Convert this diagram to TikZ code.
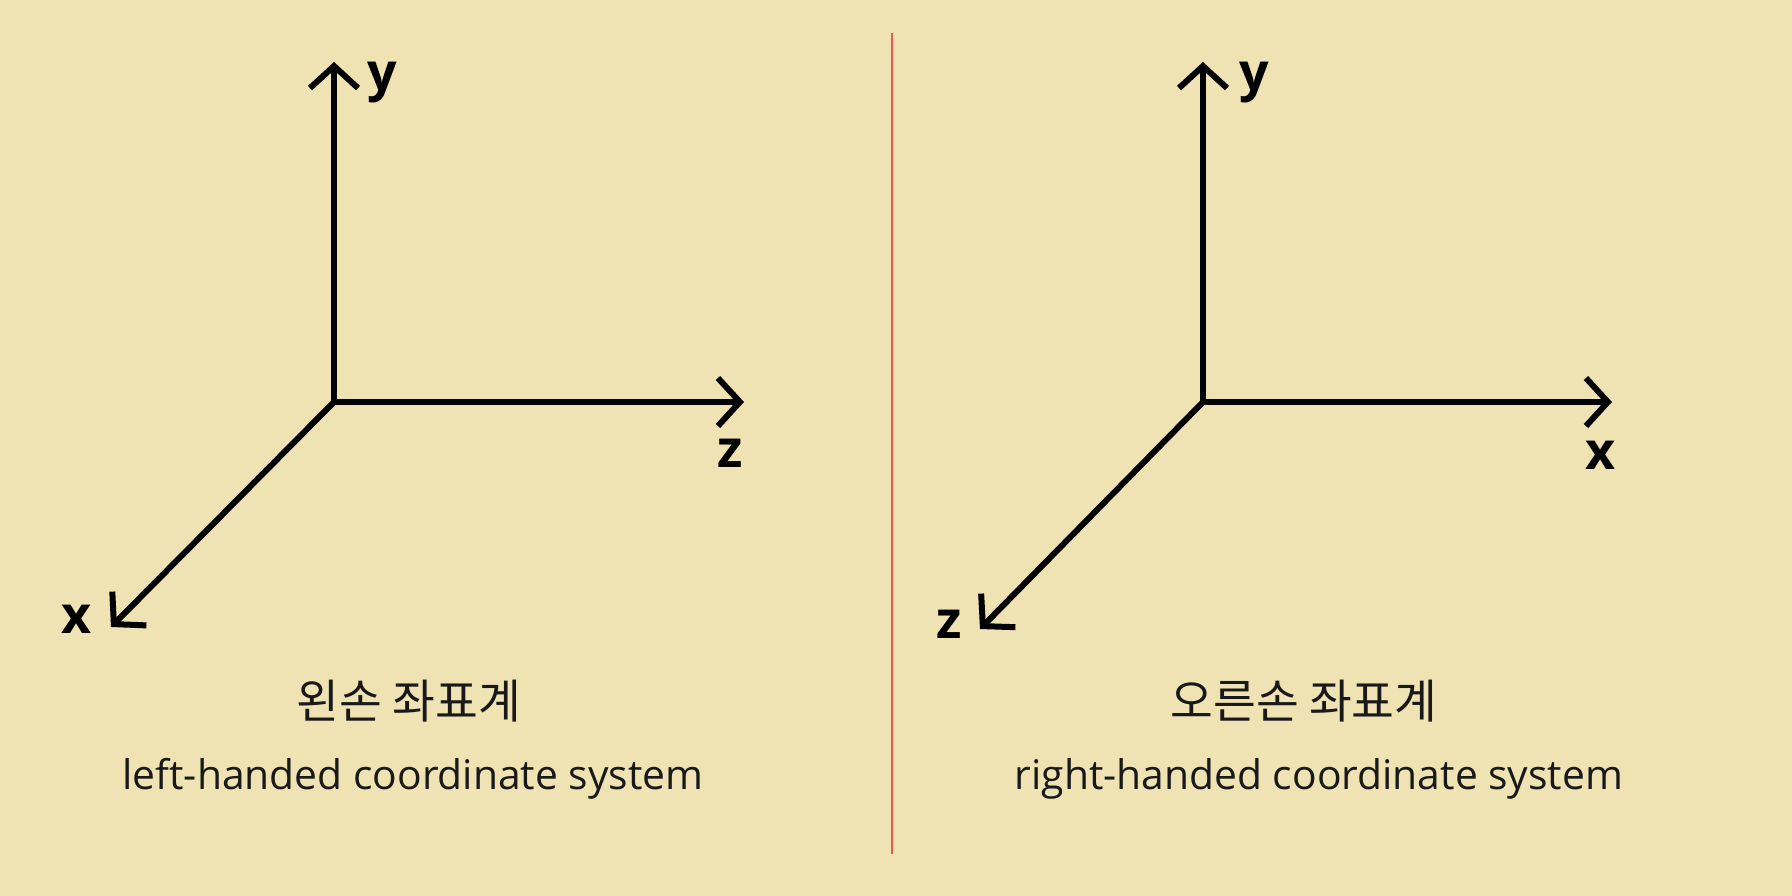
\documentclass[tikz,border=0pt]{standalone}
\usepackage{fontspec}
\setmainfont{Open Sans}
\newfontfamily\kofont{Noto Sans CJK KR}
\usetikzlibrary{arrows.meta}
\definecolor{bg}{RGB}{239,227,180}
\definecolor{divider}{RGB}{236,88,76}
\definecolor{txt}{RGB}{25,25,25}
\tikzset{
  axis/.style={line width=6pt, draw=black, line cap=butt,
    -{Straight Barb[length=22pt,width=48pt,sharp,line width=6pt]}},
  axlabel/.style={anchor=base, inner sep=0pt, font=\fontsize{52}{60}\selectfont\bfseries, text=black},
  kolabel/.style={anchor=center, inner sep=0pt, font=\fontsize{46.5}{52}\selectfont\kofont, text=txt},
  enlabel/.style={anchor=base, inner sep=0pt, font=\fontsize{40.8}{48}\selectfont, text=txt},
}
\begin{document}
\begin{tikzpicture}[x=1pt,y=-1pt]
\fill[bg] (0,0) rectangle (1792,896);
\useasboundingbox (0,0) rectangle (1792,896);
% divider
\coordinate (dtop) at (892,33);
\coordinate (dbot) at (892,854);
\draw[divider, line width=2pt] (dtop) -- (dbot);
% left system
\coordinate (Lo) at (334,402);
\coordinate (Ly) at (334,62);
\coordinate (Lz) at (744,402);
\coordinate (Lx) at (111,627);
\draw[axis] (Lo) -- (Ly);
\draw[axis] (Lo) -- (Lz);
\draw[axis] (Lo) -- (Lx);
\node[axlabel] (Lylab) at (382,91) {y};
\node[axlabel] (Lzlab) at (730,467) {z};
\node[axlabel] (Lxlab) at (77,633) {x};
\node[kolabel] (Lko) at (409,701) {왼손 좌표계};
\node[enlabel] (Len) at (413,789) {left-handed coordinate system};
% right system
\coordinate (Ro) at (1203,402);
\coordinate (Ry) at (1203,62);
\coordinate (Rx) at (1612,402);
\coordinate (Rz) at (980,629);
\draw[axis] (Ro) -- (Ry);
\draw[axis] (Ro) -- (Rx);
\draw[axis] (Ro) -- (Rz);
\node[axlabel] (Rylab) at (1254,91) {y};
\node[axlabel] (Rxlab) at (1601,469) {x};
\node[axlabel] (Rzlab) at (949,638) {z};
\node[kolabel] (Rko) at (1304,701) {오른손 좌표계};
\node[enlabel] (Ren) at (1319,789) {right-handed coordinate system};
\end{tikzpicture}
\end{document}
